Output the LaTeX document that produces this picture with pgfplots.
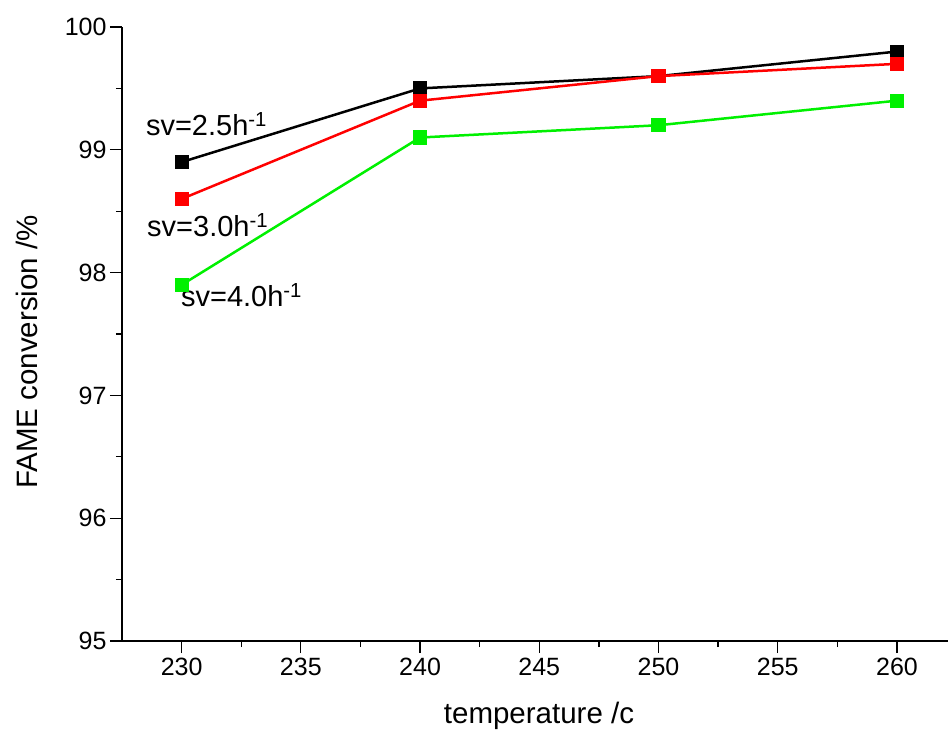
\documentclass[border=0pt]{standalone}
\usepackage{pgfplots}
\pgfplotsset{compat=1.18}
\usepackage{fontspec}
\setmainfont{Liberation Sans}
\definecolor{sgreen}{RGB}{0,240,0}

\begin{document}
\begin{tikzpicture}
  \begin{axis}[
      scale only axis,
      width=826pt, height=614pt,
      at={(0,0)}, anchor=south west,
      xmin=227.5, xmax=262.14,
      ymin=95, ymax=100,
      axis x line*=bottom, axis y line*=left,
      axis line style={-, line width=1.3pt},
      xtick={230,235,...,260},
      ytick={95,96,...,100},
      minor x tick num=1, minor y tick num=1,
      tick align=outside,
      major tick length=12pt, minor tick length=6pt,
      every tick/.style={black, line width=1.3pt},
      xtick pos=bottom, ytick pos=left,
      xticklabels={230,235,240,245,250,255,260},
      yticklabels={95,96,97,98,99,100},
      xticklabel style={font=\fontsize{25}{29}\selectfont, yshift=-2pt},
      yticklabel style={font=\fontsize{25}{29}\selectfont},
      label style={font=\fontsize{29.5}{34}\selectfont},
      xlabel={temperature /c},
      ylabel={FAME conversion /\%},
      xlabel style={at={(axis description cs:0.5,0)}, anchor=base, yshift=-82pt, xshift=4pt},
      ylabel style={at={(axis description cs:0,0.5)}, anchor=center, yshift=95pt, xshift=-18pt},
      clip=false,
      every axis plot/.append style={line width=2.5pt, mark=square*, mark size=5.8pt, mark options={solid}},
    ]
    \addplot[black, mark options={fill=black}] coordinates {
      (230,98.9) (240,99.5) (250,99.6) (260,99.8)
    };
    \addplot[red, mark options={fill=red}] coordinates {
      (230,98.6) (240,99.4) (250,99.6) (260,99.7)
    };
    \addplot[sgreen, mark options={fill=sgreen}] coordinates {
      (230,97.9) (240,99.1) (250,99.2) (260,99.4)
    };
    \node[anchor=base west, inner sep=0pt, font=\fontsize{29}{33}\selectfont] at (axis cs:228.5,99.12) {sv=2.5h\textsuperscript{-1}};
    \node[anchor=base west, inner sep=0pt, font=\fontsize{29}{33}\selectfont] at (axis cs:228.55,98.29) {sv=3.0h\textsuperscript{-1}};
    \node[anchor=base west, inner sep=0pt, font=\fontsize{29}{33}\selectfont] at (axis cs:229.97,97.72) {sv=4.0h\textsuperscript{-1}};
  \end{axis}
  \pgfresetboundingbox
  \path[use as bounding box] (-122pt,-95pt) rectangle (826pt,641pt);
\end{tikzpicture}
\end{document}
